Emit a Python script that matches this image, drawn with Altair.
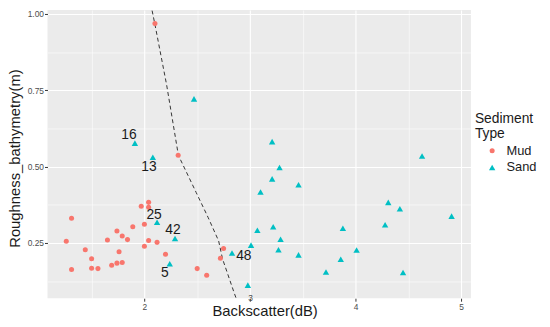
import altair as alt
import pandas as pd

# ---- data ----
mud_x = [2.10, 2.32, 1.26, 1.31, 1.31, 1.44, 1.50, 1.50, 1.56, 1.65, 1.69, 1.74, 1.74, 1.76, 1.79,
         1.79, 1.84, 1.89, 1.97, 2.00, 2.00, 2.04, 2.04, 2.04, 2.12, 2.20, 2.50, 2.59, 2.72, 2.75]
mud_y = [0.969, 0.537, 0.256, 0.331, 0.163, 0.228, 0.198, 0.167, 0.166, 0.260, 0.177, 0.184, 0.289, 0.221, 0.186,
         0.273, 0.261, 0.303, 0.370, 0.311, 0.239, 0.383, 0.367, 0.258, 0.252, 0.213, 0.166, 0.144, 0.200, 0.232]

sand_x = [2.47, 1.91, 2.08, 2.12, 2.29, 2.24, 2.83, 2.98, 3.01, 3.07, 3.10, 3.21, 3.22, 3.21, 3.28,
          3.46, 3.29, 3.27, 3.46, 3.72, 3.86, 3.88, 4.63, 4.31, 4.42, 4.91, 4.28, 4.01, 4.45]
sand_y = [0.722, 0.577, 0.531, 0.318, 0.265, 0.182, 0.217, 0.112, 0.243, 0.292, 0.417, 0.460, 0.303, 0.582, 0.497,
          0.441, 0.262, 0.228, 0.211, 0.155, 0.197, 0.298, 0.535, 0.383, 0.362, 0.338, 0.310, 0.227, 0.153]
sand_labels = ["", "16", "13", "25", "42", "5", "48"] + [""] * 22

boundary_x = [2.073, 2.098, 2.210, 2.322, 2.491, 2.603, 2.703, 2.740, 2.852, 2.869]
boundary_y = [1.011, 0.969, 0.769, 0.537, 0.415, 0.334, 0.257, 0.198, 0.085, 0.069]

x_major = [2, 3, 4, 5]
x_minor = [1.5, 2.5, 3.5, 4.5]
y_major = [0.25, 0.50, 0.75, 1.00]
y_minor = [0.125, 0.375, 0.625, 0.875]

# ---- tables ----
pts = pd.DataFrame({
    "Backscatter": mud_x + sand_x,
    "Roughness": mud_y + sand_y,
    "Sediment": ["Mud"] * len(mud_x) + ["Sand"] * len(sand_x),
    "label": [""] * len(mud_x) + sand_labels,
})
bnd = pd.DataFrame({"Backscatter": boundary_x, "Roughness": boundary_y,
                    "order": list(range(len(boundary_x)))})

FONT = "Liberation Sans"

xscale = alt.Scale(domain=[1.082, 5.093], nice=False, zero=False)
yscale = alt.Scale(domain=[0.069, 1.013], nice=False, zero=False)

xaxis = alt.Axis(
    title="Backscatter(dB)", values=sorted(x_major + x_minor),
    labelExpr="datum.value % 1 != 0 ? '' : format(datum.value, 'd')",
    labelOverlap=False, labelFlush=False,
    labelBaseline={"condition": {"test": "datum.value == 3", "value": "bottom"}, "value": "top"},
    grid=True, gridColor="white",
    gridWidth={"condition": {"test": "datum.value % 1 != 0", "value": 0.55}, "value": 1.1},
    tickOpacity={"condition": {"test": "datum.value % 1 != 0", "value": 0}, "value": 1},
    tickColor="#333333", tickSize=3, labelPadding=1, domain=False,
    labelColor="#4D4D4D", labelFontSize=8.5, labelFont=FONT,
    titleFont=FONT, titleFontSize=15, titleFontWeight="normal", titleColor="#1a1a1a",
    titleX=220, titleY=17.5, titleBaseline="alphabetic", titleAlign="center",
)
yaxis = alt.Axis(
    title="Roughness_bathymetry(m)", values=sorted(y_major + y_minor),
    labelExpr="(datum.value * 4) % 1 != 0 ? '' : format(datum.value, '.2f')",
    labelOverlap=False, labelFlush=False,
    grid=True, gridColor="white",
    gridWidth={"condition": {"test": "(datum.value * 4) % 1 != 0", "value": 0.55}, "value": 1.1},
    tickOpacity={"condition": {"test": "(datum.value * 4) % 1 != 0", "value": 0}, "value": 1},
    tickColor="#333333", tickSize=3, labelPadding=1, domain=False,
    labelColor="#4D4D4D", labelFontSize=8.5, labelFont=FONT,
    titleFont=FONT, titleFontSize=15, titleFontWeight="normal", titleColor="#1a1a1a",
    titleX=-28, titleY=150, titleBaseline="alphabetic", titleAngle=270, titleAlign="center",
)

legend = alt.Legend(
    title=["Sediment", "Type"], orient="none", legendX=433, legendY=103,
    titleFont=FONT, titleFontSize=14, titleFontWeight="normal", titleColor="#1a1a1a",
    titleLineHeight=16, titlePadding=3,
    labelFont=FONT, labelFontSize=13, labelColor="#1a1a1a",
    symbolOffset=11, labelOffset=8, rowPadding=3, symbolStrokeWidth=0,
)

points = alt.Chart(pts).mark_point(filled=True, opacity=1).encode(
    x=alt.X("Backscatter:Q", scale=xscale, axis=xaxis),
    y=alt.Y("Roughness:Q", scale=yscale, axis=yaxis),
    color=alt.Color("Sediment:N", scale=alt.Scale(domain=["Mud", "Sand"], range=["#F8766D", "#00BFC4"]),
                    legend=legend),
    shape=alt.Shape("Sediment:N", scale=alt.Scale(domain=["Mud", "Sand"], range=["circle", "triangle-up"]),
                    legend=legend),
    size=alt.Size("Sediment:N", scale=alt.Scale(domain=["Mud", "Sand"], range=[26, 42]), legend=legend),
)

line = alt.Chart(bnd).mark_line(color="#333333", strokeDash=[4, 3], strokeWidth=1, clip=True).encode(
    x=alt.X("Backscatter:Q", scale=xscale),
    y=alt.Y("Roughness:Q", scale=yscale),
    order="order:Q",
)

label_offsets = {"16": (-6, -8.5), "13": (-4, 10), "25": (-3, -7.5),
                 "42": (-2, -8), "5": (-5, 9), "48": (12, 3)}
label_layers = []
for lab, (ddx, ddy) in label_offsets.items():
    label_layers.append(
        alt.Chart(pts).transform_filter(alt.datum.label == lab).mark_text(
            dx=ddx, dy=ddy, fontSize=14, font=FONT, color="#1a1a1a", align="center", baseline="middle"
        ).encode(
            x=alt.X("Backscatter:Q", scale=xscale),
            y=alt.Y("Roughness:Q", scale=yscale),
            text="label:N",
        )
    )

chart = alt.layer(line, points, *label_layers).properties(
    width=429, height=292,
    autosize=alt.AutoSizeParams(type="none"),
    padding={"left": 40, "top": 0, "right": 72, "bottom": 20},
    background="white",
).configure_view(fill="#EBEBEB", stroke=None)

chart.save("out.html", embed_options={"renderer": "svg", "actions": False})
